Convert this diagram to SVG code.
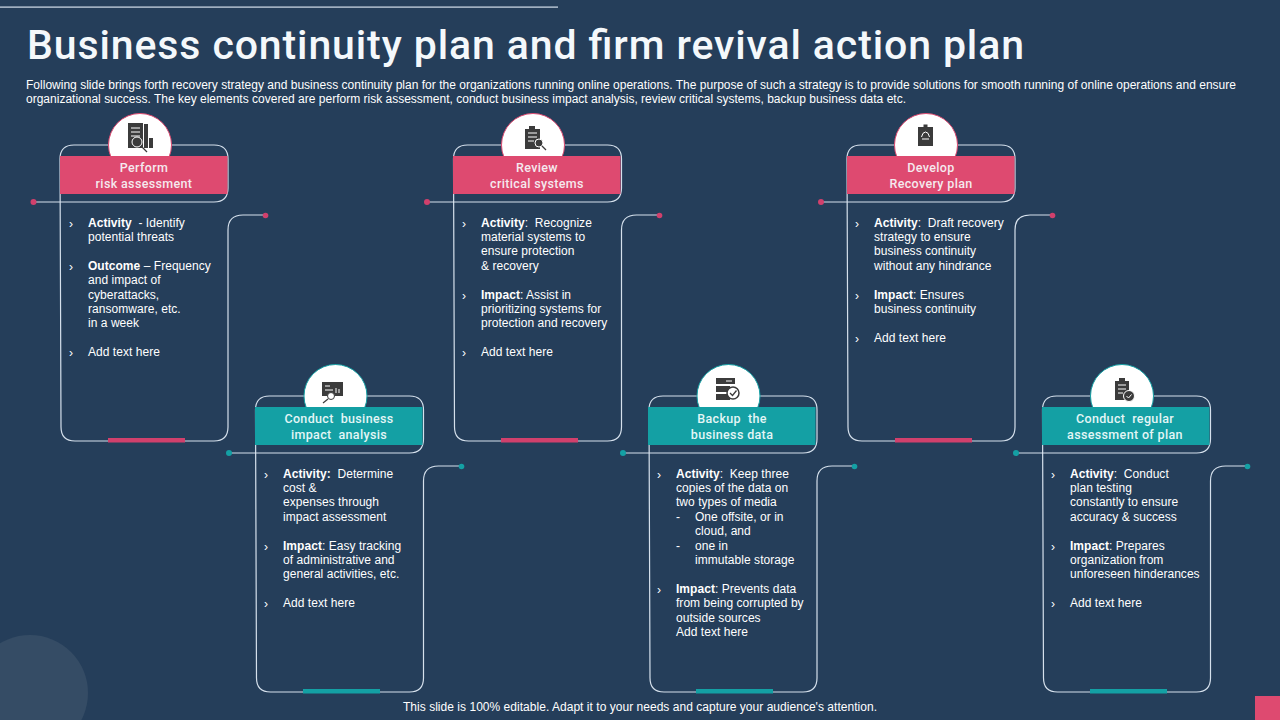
<svg xmlns="http://www.w3.org/2000/svg" xmlns:xlink="http://www.w3.org/1999/xlink" width="1280" height="720" viewBox="0 0 1280 720">
<style>
text{font-family:"Liberation Sans",Arial,sans-serif;fill:#fff}
.title{font-family:"Roboto","Liberation Sans",sans-serif;font-size:41px;font-weight:500;fill:#f4f8fb}
.intro{font-size:12px}
.b{font-size:12px;letter-spacing:.04px;white-space:pre}
.b tspan.s{font-weight:700}
.h{font-family:"Roboto","Liberation Sans",sans-serif;font-size:12.5px;font-weight:500;text-anchor:middle;letter-spacing:.35px;white-space:pre;fill:#f5e9ee}
.t .h{fill:#e3f6f6}
.ln{fill:none;stroke:#d5e0ec;stroke-width:1.200}
.ch{font-size:12px}
.ic{fill:#3b3b3b}
.icl{fill:none;stroke:#3b3b3b;stroke-width:1.300}
.icw{fill:#fff}
.wl{fill:none;stroke:#fff;stroke-width:1}
</style>
<defs>
<path id="outline" d="M33 202H214Q228 202 228 188V159Q228 145 214 145H74Q60 145 60 159L61 427Q61 441 75 441H214Q228 441 228 427V230Q228 215 243 215H265"/>
</defs>
<rect width="1280" height="720" fill="#253e5a"/>
<circle cx="30" cy="693" r="58" fill="#354c65"/>
<rect x="0" y="6.500" width="558" height="1.200" fill="#d5e0ec"/>
<rect x="1255" y="696" width="25" height="24" fill="#de4a70"/>
<text class="title" x="27" y="59" textLength="997" lengthAdjust="spacing">Business continuity plan and firm revival action plan</text>
<text class="intro" x="26" y="89" textLength="1210" lengthAdjust="spacing">Following slide brings forth recovery strategy and business continuity plan for the organizations running online operations. The purpose of such a strategy is to provide solutions for smooth running of online operations and ensure</text>
<text class="intro" x="26" y="103" textLength="880" lengthAdjust="spacing">organizational success. The key elements covered are perform risk assessment, conduct business impact analysis, review critical systems, backup business data etc.</text>
<g id="connectors">
<use href="#outline" class="ln"/>
<use href="#outline" class="ln" transform="translate(195.500 251)"/>
<use href="#outline" class="ln" transform="translate(393.500 0)"/>
<use href="#outline" class="ln" transform="translate(589 251)"/>
<use href="#outline" class="ln" transform="translate(787 0)"/>
<use href="#outline" class="ln" transform="translate(982.500 251)"/>
<g fill="#d1406c">
<circle cx="33.500" cy="202" r="3"/><circle cx="265.500" cy="215.500" r="2.800"/>
<circle cx="427" cy="202" r="3"/><circle cx="659.500" cy="215.500" r="2.800"/>
<circle cx="821" cy="202" r="3"/><circle cx="1052.500" cy="215.500" r="2.800"/>
</g>
<g fill="#14a0a4">
<circle cx="229" cy="453" r="3"/><circle cx="461.500" cy="466.500" r="2.800"/>
<circle cx="623" cy="453" r="3"/><circle cx="854.500" cy="466.500" r="2.800"/>
<circle cx="1016" cy="453" r="3"/><circle cx="1247.500" cy="466.500" r="2.800"/>
</g>
</g>

<g id="node-risk">
<circle cx="140" cy="145" r="31.500" fill="#fff" stroke="#de4a70"/>
<rect x="60" y="156" width="167.500" height="38" fill="#de4a70"/>
<rect x="108" y="438" width="77" height="4.500" fill="#d1406c"/>
<path class="ic" d="M128 123h15v25h-15zM144 124h4v24h-4zM149 138h4v10h-4z"/>
<path d="M131 128h9M131 132h9M131 136h9" class="wl"/>
<circle cx="137" cy="142" r="5" fill="#3b3b3b" stroke="#fff"/>
<path class="icl" d="M141 146l6 6" stroke-width="2"/>
<text class="h" x="144" y="172">Perform</text>
<text class="h" x="144" y="188">risk assessment</text>
<text class="ch" x="69" y="228">›</text>
<text class="b" x="88" y="227"><tspan class="s">Activity</tspan>  - Identify</text>
<text class="b" x="88" y="241">potential threats</text>
<text class="ch" x="69" y="271">›</text>
<text class="b" x="88" y="270"><tspan class="s">Outcome </tspan>– Frequency</text>
<text class="b" x="88" y="284">and impact of</text>
<text class="b" x="88" y="299">cyberattacks,</text>
<text class="b" x="88" y="313">ransomware, etc.</text>
<text class="b" x="88" y="327">in a week</text>
<text class="ch" x="69" y="357">›</text>
<text class="b" x="88" y="356">Add text here</text>
</g>

<g id="node-impact" class="t">
<circle cx="335.500" cy="396" r="31.500" fill="#fff" stroke="#14a0a4"/>
<rect x="255" y="407" width="167.500" height="38" fill="#14a0a4"/>
<rect x="303" y="689" width="77" height="4.500" fill="#14a0a4"/>
<rect class="ic" x="322" y="382" width="21" height="14"/>
<path class="wl" d="M325 386h5M325 390h8M336 393v-5M339 393v-4"/>
<circle cx="331" cy="396" r="3.500" fill="#fff" stroke="#3b3b3b"/>
<path class="icl" d="M328 399l-5 4"/>
<text class="h" x="339" y="423">Conduct  business</text>
<text class="h" x="339" y="439">impact  analysis</text>
<text class="ch" x="264" y="479">›</text>
<text class="b" x="283" y="478"><tspan class="s">Activity:</tspan>  Determine</text>
<text class="b" x="283" y="492">cost &amp;</text>
<text class="b" x="283" y="506">expenses through</text>
<text class="b" x="283" y="521">impact assessment</text>
<text class="ch" x="264" y="551">›</text>
<text class="b" x="283" y="550"><tspan class="s">Impact</tspan>: Easy tracking</text>
<text class="b" x="283" y="564">of administrative and</text>
<text class="b" x="283" y="578">general activities, etc.</text>
<text class="ch" x="264" y="608">›</text>
<text class="b" x="283" y="607">Add text here</text>
</g>

<g id="node-review">
<circle cx="533" cy="145" r="31.500" fill="#fff" stroke="#de4a70"/>
<rect x="453" y="156" width="167.500" height="38" fill="#de4a70"/>
<rect x="501" y="438" width="77" height="4.500" fill="#d1406c"/>
<path class="ic" d="M525 129h4v-3h6v3h5v20h-15z"/>
<path class="wl" d="M528 133h9M528 137h9M528 141h6"/>
<circle cx="539" cy="143" r="4" fill="#3b3b3b" stroke="#fff"/>
<path class="icl" d="M542 146l4 4" stroke-width="2"/>
<text class="h" x="537" y="172">Review</text>
<text class="h" x="537" y="188">critical systems</text>
<text class="ch" x="462" y="228">›</text>
<text class="b" x="481" y="227"><tspan class="s">Activity</tspan>:  Recognize</text>
<text class="b" x="481" y="241">material systems to</text>
<text class="b" x="481" y="255">ensure protection</text>
<text class="b" x="481" y="270">&amp; recovery</text>
<text class="ch" x="462" y="300">›</text>
<text class="b" x="481" y="299"><tspan class="s">Impact</tspan>: Assist in</text>
<text class="b" x="481" y="313">prioritizing systems for</text>
<text class="b" x="481" y="327">protection and recovery</text>
<text class="ch" x="462" y="357">›</text>
<text class="b" x="481" y="356">Add text here</text>
</g>

<g id="node-backup" class="t">
<circle cx="728.500" cy="396" r="31.500" fill="#fff" stroke="#14a0a4"/>
<rect x="648" y="407" width="167.500" height="38" fill="#14a0a4"/>
<rect x="696" y="689" width="77" height="4.500" fill="#14a0a4"/>
<rect class="ic" x="716" y="378" width="19" height="6"/>
<rect class="ic" x="716" y="386" width="14" height="6"/>
<rect class="ic" x="716" y="394" width="14" height="6"/>
<path class="wl" d="M726 381h6"/>
<circle cx="733" cy="393" r="6" fill="#fff" stroke="#3b3b3b" stroke-width="1.500"/>
<path class="icl" d="M730 393l2.500 2.500 4-5"/>
<text class="h" x="732" y="423">Backup  the</text>
<text class="h" x="732" y="439">business data</text>
<text class="ch" x="657" y="479">›</text>
<text class="b" x="676" y="478"><tspan class="s">Activity</tspan>:  Keep three</text>
<text class="b" x="676" y="492">copies of the data on</text>
<text class="b" x="676" y="506">two types of media</text>
<text class="b" x="676" y="521">-</text><text class="b" x="695" y="521">One offsite, or in</text>
<text class="b" x="695" y="535">cloud, and</text>
<text class="b" x="676" y="550">-</text><text class="b" x="695" y="550">one in</text>
<text class="b" x="695" y="564">immutable storage</text>
<text class="ch" x="657" y="594">›</text>
<text class="b" x="676" y="593"><tspan class="s">Impact</tspan>: Prevents data</text>
<text class="b" x="676" y="607">from being corrupted by</text>
<text class="b" x="676" y="622">outside sources</text>
<text class="b" x="676" y="636">Add text here</text>
</g>

<g id="node-recovery">
<circle cx="926" cy="145" r="31.500" fill="#fff" stroke="#de4a70"/>
<rect x="847" y="156" width="167.500" height="38" fill="#de4a70"/>
<rect x="895" y="438" width="77" height="4.500" fill="#d1406c"/>
<rect class="ic" x="918" y="127" width="15" height="19"/>
<rect class="ic" x="923.500" y="124.500" width="4" height="3"/>
<path class="wl" d="M921.500 137q1-5 4-5t4 5M922 139h7"/>
<text class="h" x="931" y="172">Develop</text>
<text class="h" x="931" y="188">Recovery plan</text>
<text class="ch" x="855" y="228">›</text>
<text class="b" x="874" y="227"><tspan class="s">Activity</tspan>:  Draft recovery</text>
<text class="b" x="874" y="241">strategy to ensure</text>
<text class="b" x="874" y="255">business continuity</text>
<text class="b" x="874" y="270">without any hindrance</text>
<text class="ch" x="855" y="300">›</text>
<text class="b" x="874" y="299"><tspan class="s">Impact</tspan>: Ensures</text>
<text class="b" x="874" y="313">business continuity</text>
<text class="ch" x="855" y="343">›</text>
<text class="b" x="874" y="342">Add text here</text>
</g>

<g id="node-assess" class="t">
<circle cx="1122" cy="396" r="31.500" fill="#fff" stroke="#14a0a4"/>
<rect x="1042" y="407" width="167.500" height="38" fill="#14a0a4"/>
<rect x="1090" y="689" width="77" height="4.500" fill="#14a0a4"/>
<path class="ic" d="M1115 381h4v-3h6v3h4v19h-14z"/>
<path class="wl" d="M1118 385h8M1118 389h8M1118 393h5"/>
<circle cx="1129" cy="396" r="5.500" fill="#3b3b3b" stroke="#fff"/>
<path class="wl" d="M1126.500 396l2 2 3-3.500"/>
<text class="h" x="1125" y="423">Conduct  regular</text>
<text class="h" x="1125" y="439">assessment of plan</text>
<text class="ch" x="1051" y="479">›</text>
<text class="b" x="1070" y="478"><tspan class="s">Activity</tspan>:  Conduct</text>
<text class="b" x="1070" y="492">plan testing</text>
<text class="b" x="1070" y="506">constantly to ensure</text>
<text class="b" x="1070" y="521">accuracy &amp; success</text>
<text class="ch" x="1051" y="551">›</text>
<text class="b" x="1070" y="550"><tspan class="s">Impact</tspan>: Prepares</text>
<text class="b" x="1070" y="564">organization from</text>
<text class="b" x="1070" y="578">unforeseen hinderances</text>
<text class="ch" x="1051" y="608">›</text>
<text class="b" x="1070" y="607">Add text here</text>
</g>
<text x="640" y="711" text-anchor="middle" font-size="12" textLength="474" lengthAdjust="spacing">This slide is 100% editable. Adapt it to your needs and capture your audience's attention.</text>
</svg>
